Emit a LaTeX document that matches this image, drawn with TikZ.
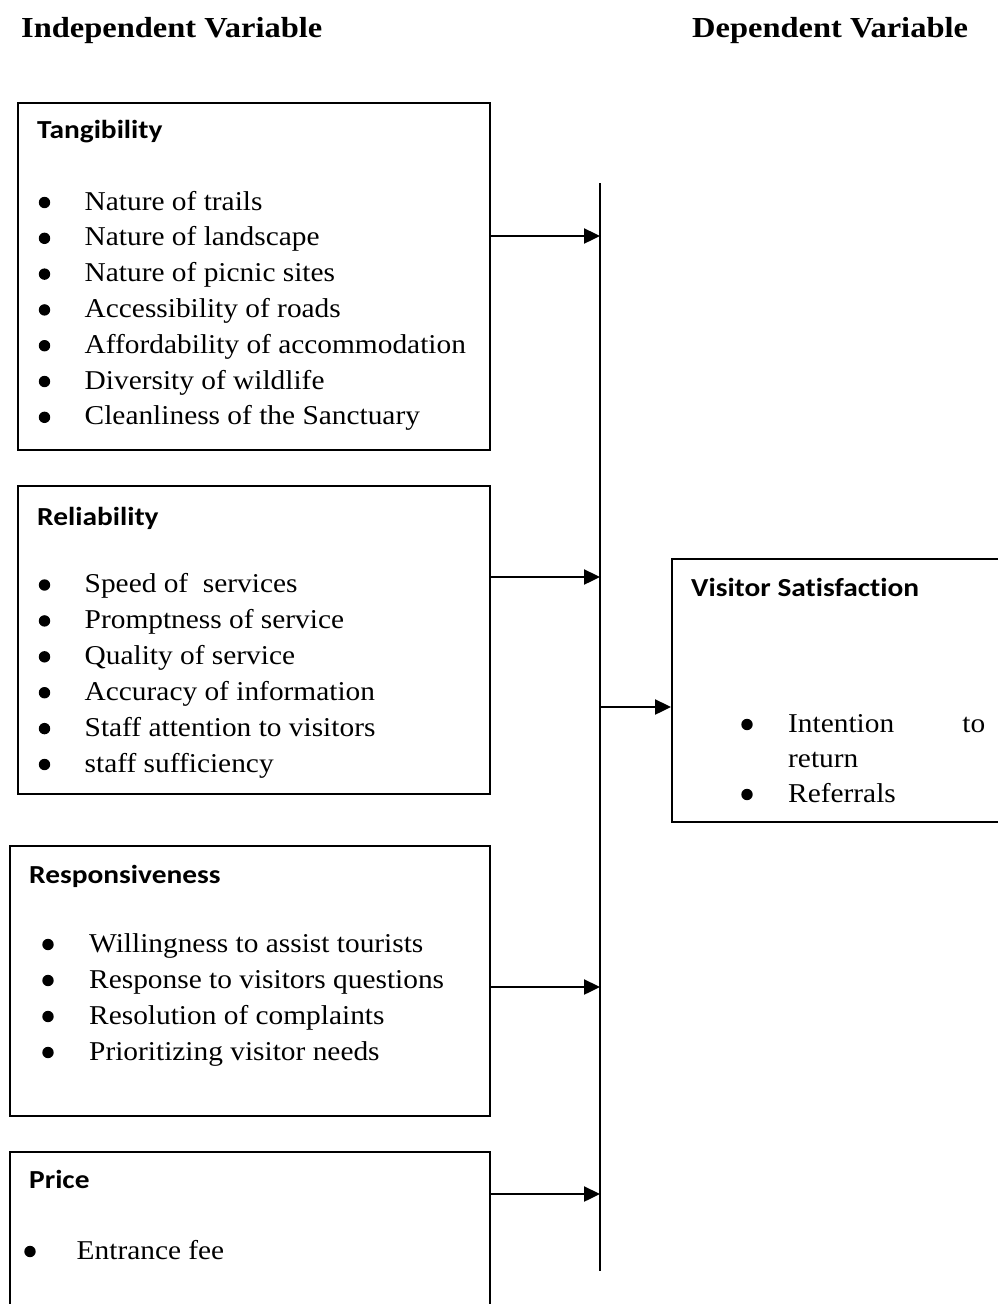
\documentclass[tikz,border=0pt]{standalone}
\usepackage{fontspec}
\setmainfont{Liberation Serif}[FakeStretch=1.08, Ligatures=NoCommon]
\newfontfamily\headfont{Liberation Serif}[FakeStretch=1.12, Ligatures=NoCommon]
\newfontfamily\titlefont{Carlito}[FakeStretch=1.13, Ligatures=NoCommon]
\usetikzlibrary{arrows.meta}

\begin{document}
\begin{tikzpicture}[x=1pt,y=-1pt,
  frame/.style={draw, line width=2.1pt, anchor=north west, inner sep=0pt},
  heading/.style={anchor=base west, inner sep=0pt, font=\headfont\bfseries\fontsize{29}{34}\selectfont},
  boxtitle/.style={anchor=base west, inner sep=0pt, font=\titlefont\bfseries\fontsize{26}{30}\selectfont},
  item/.style={anchor=base west, inner sep=0pt, font=\fontsize{27.2}{33}\selectfont},
  feed/.style={line width=2.4pt, -{Triangle[length=16pt,width=15pt]}},
  spineline/.style={line width=1.7pt}
]
\useasboundingbox (0,0) rectangle (998,1304);

% headings
\node[heading] (indep) at (21,37) {Independent Variable};
\node[heading] (dep) at (692,37) {Dependent Variable};

% boxes
\node[frame, minimum width=472pt, minimum height=347pt] (tang) at (17,102) {};
\node[frame, minimum width=472pt, minimum height=308pt] (reli) at (17,485) {};
\node[frame, minimum width=480pt, minimum height=270pt] (resp) at (9,845) {};
\node[frame, minimum width=480pt, minimum height=185pt] (price) at (9,1151) {};
\node[frame, minimum width=345pt, minimum height=263pt] (vis) at (671,558) {};

% titles
\node[boxtitle] (tangT) at (37,138) {Tangibility};
\node[boxtitle] (reliT) at (37,525) {Reliability};
\node[boxtitle] (respT) at (29,883) {Responsiveness};
\node[boxtitle] (priceT) at (29,1188) {Price};
\node[boxtitle] (visT) at (691,596) {Visitor Satisfaction};

% Tangibility items
\foreach \t [count=\i] in {Nature of trails, Nature of landscape, Nature of picnic sites,
  Accessibility of roads, Affordability of accommodation, Diversity of wildlife,
  Cleanliness of the Sanctuary}{
  \node[item] (tang\i) at (84.5,{210+35.8*(\i-1)}) {\t};
  \fill (44.5,{202.5+35.8*(\i-1)}) circle (5.7pt);
}

% Reliability items
\foreach \t [count=\i] in {Speed of\ \ services, Promptness of service, Quality of service,
  Accuracy of information, Staff attention to visitors, staff sufficiency}{
  \node[item] (reli\i) at (84.5,{592.5+35.9*(\i-1)}) {\t};
  \fill (44.5,{585+35.9*(\i-1)}) circle (5.7pt);
}

% Responsiveness items
\foreach \t [count=\i] in {Willingness to assist tourists, Response to visitors questions,
  Resolution of complaints, Prioritizing visitor needs}{
  \node[item] (resp\i) at (89,{952+36*(\i-1)}) {\t};
  \fill (48,{944.5+36*(\i-1)}) circle (5.7pt);
}

% Price item
\node[item] (price1) at (76.5,1259) {Entrance fee};
\fill (30,1251.5) circle (5.7pt);

% Visitor Satisfaction items
\node[item] (vis1) at (788,732) {\makebox[197pt][s]{Intention to}};
\node[item] (vis1b) at (788,767) {return};
\node[item] (vis2) at (788,802) {Referrals};
\fill (747,724.5) circle (5.7pt);
\fill (747,794.5) circle (5.7pt);

% spine
\coordinate (stop) at (600,183);
\coordinate (sbot) at (600,1271);
\draw[spineline] (stop) -- (sbot);

% connectors
\draw[feed] (tang.east |- 0,236) -- (stop |- 0,236);
\draw[feed] (reli.east |- 0,577) -- (stop |- 0,577);
\draw[feed] (resp.east |- 0,987) -- (stop |- 0,987);
\draw[feed] (price.east |- 0,1194) -- (stop |- 0,1194);
\draw[feed] (stop |- 0,707) -- (vis.west |- 0,707);
\end{tikzpicture}
\end{document}
